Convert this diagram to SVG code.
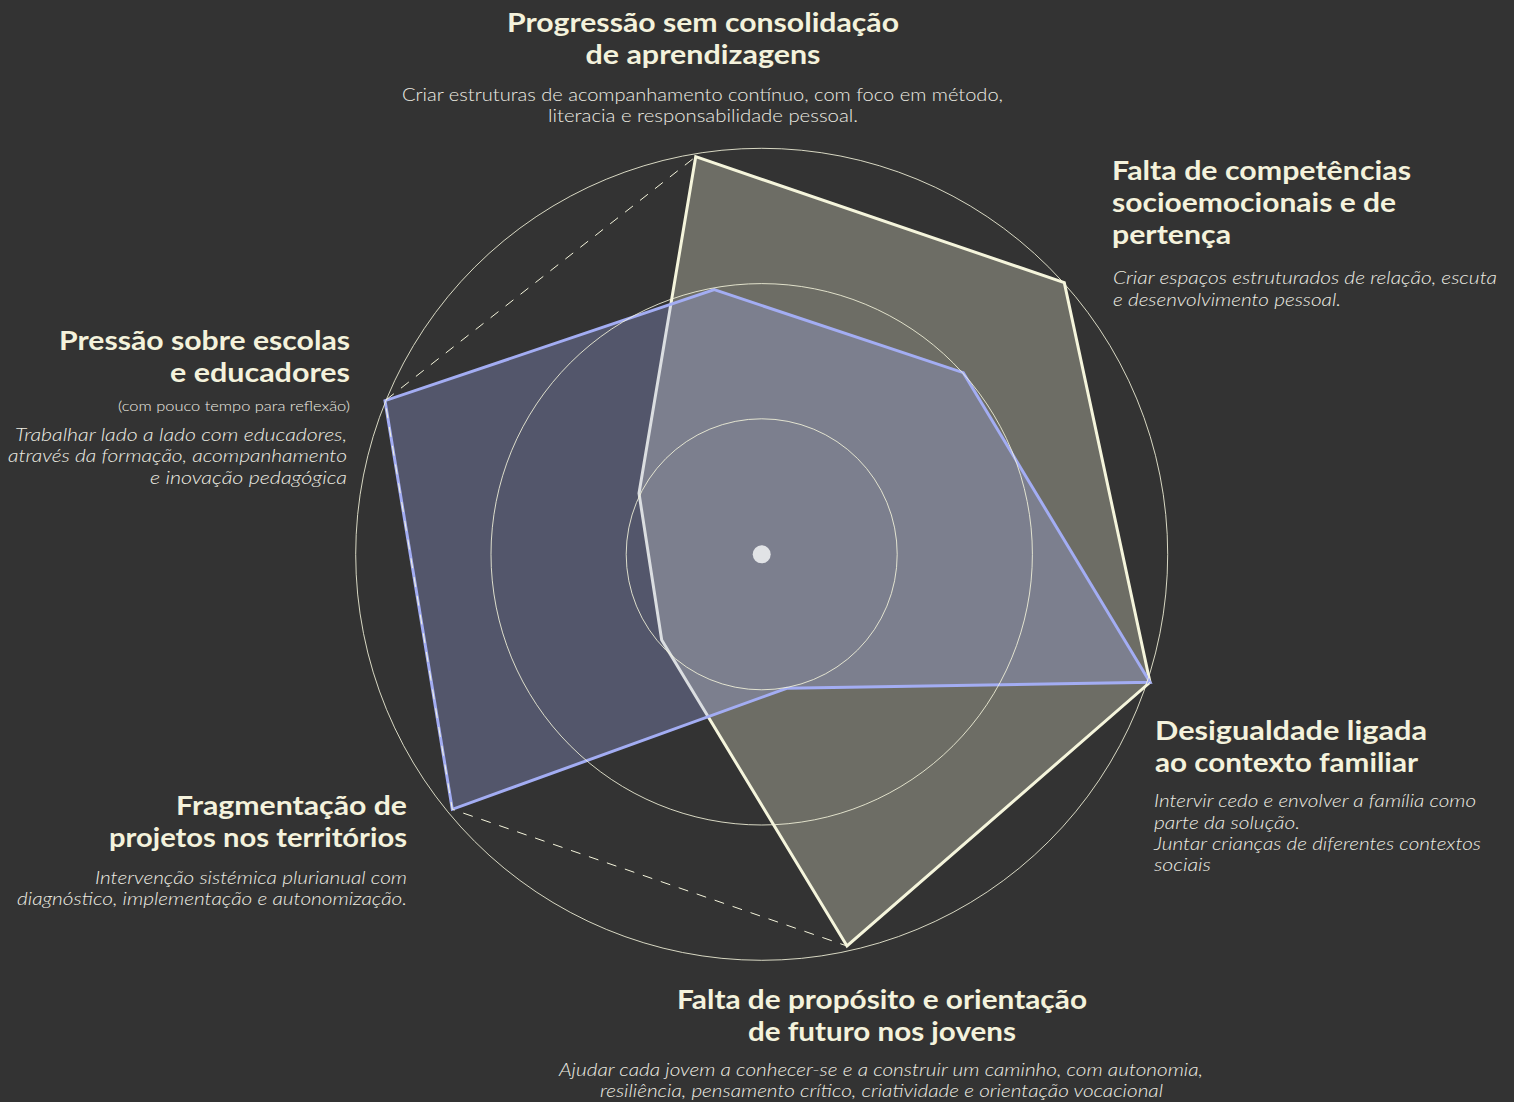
<svg xmlns="http://www.w3.org/2000/svg" width="1514" height="1102" viewBox="0 0 1514 1102">
<defs>
<style>
.t{font-family:Lato,"Liberation Sans",sans-serif;font-weight:700;font-size:27px;fill:#f4f2dc}
.d{font-family:Lato,"Liberation Sans",sans-serif;font-weight:300;font-size:17px;fill:#eeede3}
.i{font-style:italic}
.s{font-family:Lato,"Liberation Sans",sans-serif;font-weight:300;font-size:13.5px;fill:#eeede3}
.ring{fill:none;stroke:#f5f5dc;stroke-width:1;opacity:0.85}
</style>
</defs>
<rect width="1514" height="1102" fill="#333333"/>
<g id="chart">
<polygon id="series-a" points="695.7,156.7 1064.3,282.7 1150,682.3 847,946 661.7,640 639,493.3" fill="#f5f5dc" fill-opacity="0.3" stroke="#f5f5dc" stroke-width="3" stroke-linejoin="miter"/>
<polygon id="series-b" points="714.3,289.7 963.3,372.7 1150,682.3 786.7,688.3 452.3,809.3 385,400.7" fill="#a0aaf0" fill-opacity="0.3" stroke="#a3adf3" stroke-width="3"/>
<g id="grid">
<circle class="ring" cx="761.7" cy="554.3" r="135.5"/>
<circle class="ring" cx="761.7" cy="554.3" r="270.7"/>
<circle class="ring" cx="761.7" cy="554.3" r="406"/>
</g>
</g>
<g id="connectors">
<polygon points="695.7,156.7 1064.3,282.7 1150,682.3 847,946 452.3,809.3 385,400.7" fill="none" stroke="#f5f5dc" stroke-width="1" stroke-dasharray="10,9"/>
</g>
<circle id="center" cx="761.7" cy="554.3" r="9" fill="#e1e3e6"/>
<g id="n-top" text-anchor="middle">
<text class="t" x="703" y="32" textLength="392" lengthAdjust="spacingAndGlyphs">Progressão sem consolidação</text>
<text class="t" x="703" y="64" textLength="235" lengthAdjust="spacingAndGlyphs">de aprendizagens</text>
<text class="d" x="702.5" y="101" textLength="601" lengthAdjust="spacingAndGlyphs">Criar estruturas de acompanhamento contínuo, com foco em método,</text>
<text class="d" x="703" y="122" textLength="310" lengthAdjust="spacingAndGlyphs">literacia e responsabilidade pessoal.</text>
</g>
<g id="n-topright">
<text class="t" x="1112" y="180" textLength="299" lengthAdjust="spacingAndGlyphs">Falta de competências</text>
<text class="t" x="1112" y="212" textLength="284" lengthAdjust="spacingAndGlyphs">socioemocionais e de</text>
<text class="t" x="1112" y="244" textLength="119" lengthAdjust="spacingAndGlyphs">pertença</text>
<text class="d i" x="1113" y="284" textLength="384" lengthAdjust="spacingAndGlyphs">Criar espaços estruturados de relação, escuta</text>
<text class="d i" x="1113" y="306" textLength="228" lengthAdjust="spacingAndGlyphs">e desenvolvimento pessoal.</text>
</g>
<g id="n-right">
<text class="t" x="1155" y="740" textLength="272" lengthAdjust="spacingAndGlyphs">Desigualdade ligada</text>
<text class="t" x="1155" y="772" textLength="263" lengthAdjust="spacingAndGlyphs">ao contexto familiar</text>
<text class="d i" x="1154" y="807" textLength="322" lengthAdjust="spacingAndGlyphs">Intervir cedo e envolver a família como</text>
<text class="d i" x="1154" y="829" textLength="146" lengthAdjust="spacingAndGlyphs">parte da solução.</text>
<text class="d i" x="1154" y="850" textLength="327" lengthAdjust="spacingAndGlyphs">Juntar crianças de diferentes contextos</text>
<text class="d i" x="1154" y="871" textLength="57" lengthAdjust="spacingAndGlyphs">sociais</text>
</g>
<g id="n-bottom" text-anchor="middle">
<text class="t" x="882" y="1009" textLength="410" lengthAdjust="spacingAndGlyphs">Falta de propósito e orientação</text>
<text class="t" x="882" y="1041" textLength="268" lengthAdjust="spacingAndGlyphs">de futuro nos jovens</text>
<text class="d i" x="881" y="1076" textLength="644" lengthAdjust="spacingAndGlyphs">Ajudar cada jovem a conhecer-se e a construir um caminho, com autonomia,</text>
<text class="d i" x="881.5" y="1097" textLength="563" lengthAdjust="spacingAndGlyphs">resiliência, pensamento crítico, criatividade e orientação vocacional</text>
</g>
<g id="n-bottomleft" text-anchor="end">
<text class="t" x="407" y="815" textLength="231" lengthAdjust="spacingAndGlyphs">Fragmentação de</text>
<text class="t" x="407" y="847" textLength="298" lengthAdjust="spacingAndGlyphs">projetos nos territórios</text>
<text class="d i" x="407" y="884" textLength="312" lengthAdjust="spacingAndGlyphs">Intervenção sistémica plurianual com</text>
<text class="d i" x="407" y="905" textLength="390" lengthAdjust="spacingAndGlyphs">diagnóstico, implementação e autonomização.</text>
</g>
<g id="n-left" text-anchor="end">
<text class="t" x="350" y="350" textLength="291" lengthAdjust="spacingAndGlyphs">Pressão sobre escolas</text>
<text class="t" x="350" y="382" textLength="180" lengthAdjust="spacingAndGlyphs">e educadores</text>
<text class="s" x="350" y="411" textLength="232" lengthAdjust="spacingAndGlyphs">(com pouco tempo para reflexão)</text>
<text class="d i" x="347" y="441" textLength="332" lengthAdjust="spacingAndGlyphs">Trabalhar lado a lado com educadores,</text>
<text class="d i" x="347" y="462" textLength="339" lengthAdjust="spacingAndGlyphs">através da formação, acompanhamento</text>
<text class="d i" x="347" y="484" textLength="197" lengthAdjust="spacingAndGlyphs">e inovação pedagógica</text>
</g>
</svg>
